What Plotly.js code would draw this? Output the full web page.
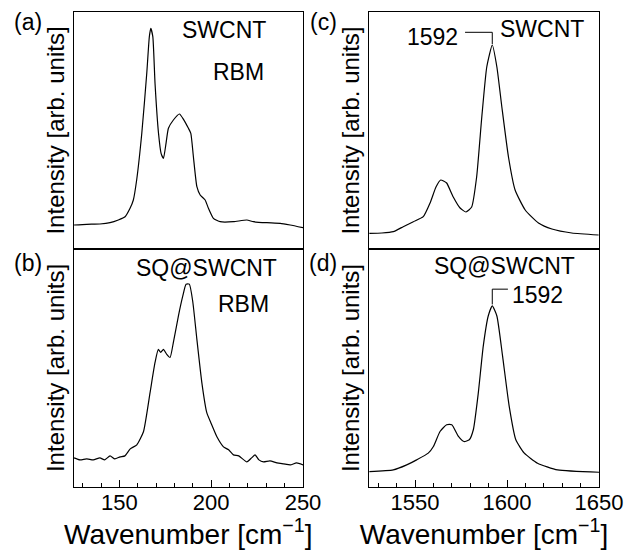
<!DOCTYPE html>
<html>
<head>
<meta charset="utf-8">
<script src="https://cdn.plot.ly/plotly-3.0.1.min.js"></script>
<style>html,body{margin:0;padding:0;background:#fff;}#chart{width:629px;height:550px;}</style>
</head>
<body>
<div id="chart"></div>
<script>
// ---- Data (intensity in arbitrary units) ----
// (a) SWCNT, RBM region
const wnA = [125.3,132.2,139.4,144.9,149.4,153.1,155.8,157.6,159.4,162.2,164.9,166.3,167.1,168.2,169.4,171.3,172.7,174.0,175.4,176.7,179.4,182.7,184.9,187.6,188.9,190.3,192.2,194.0,196.7,198.5,201.2,204.9,212.1,219.4,223.0,230.3,237.6,243.0,250.0];
const intA = [24,24.7,25,26.3,29,32.3,40.7,49,69,115.7,175.7,212.3,220.7,212.3,165.7,115.7,95.7,90.7,105.7,120.7,129,135,129.7,120.7,115.7,92.3,62.3,54,49,40.7,30.7,27.3,27.3,29,27.3,26.3,25.7,24,21.3];
// (b) SQ@SWCNT, RBM region
const wnB = [125.3,128.5,132.2,135.8,139.4,142.0,144.9,147.5,150.4,153.0,155.9,159.5,163.1,166.7,169.4,171.2,172.5,174.0,175.8,177.6,179.4,182.1,184.5,186.3,188.1,190.0,192.2,194.9,197.6,199.8,203.1,206.7,209.5,212.1,215.0,219.4,222.0,223.9,226.0,228.5,232.0,235.8,239.5,243.1,246.5,250.0];
const intB = [29,27,28,27,29,27,31,28,30,31,38,42,55,94,124,137,134,137,132,129,144,170,190,202,202,184,147,104,74,64,50,40,37,32,31,25,29,32,27,25,26,24,23,22,24,22];
// (c) SWCNT, G band
const wnC = [1525.2,1532.0,1538.2,1543.6,1549.1,1554.5,1558.2,1561.4,1564.0,1565.5,1567.2,1570.8,1574.5,1577.7,1580.8,1583.5,1586.3,1589.0,1592.0,1594.5,1597.2,1600.8,1604.4,1609.9,1617.1,1624.4,1635.2,1649.8];
const intC = [15.7,16,17.3,22.3,27.3,32.3,46,62,69,68,66,52,41,37,42,72,132,182,204,182,142,92,59,39,26,20,16,14];
// (d) SQ@SWCNT, G band
const wnD = [1525.2,1538.2,1545.5,1550.9,1557.2,1560.0,1563.6,1567.2,1570.0,1573.6,1576.6,1579.5,1581.7,1584.4,1587.1,1589.8,1592.0,1594.5,1597.6,1601.2,1604.8,1609.4,1616.6,1627.5,1650.0];
const intD = [15.3,17,22,27,33.7,40.3,55.3,62,62,50.3,45.3,47,57,93.7,140.3,170.3,180.3,170.3,130.3,80.3,47,33.7,23.7,17,14.7];

const panelLabels = ['(a)','(b)','(c)','(d)'];
const peakLabel = 1592;
const xTickLeft = ['150','200','250'];
const xTickRight = ['1550','1600','1650'];

// ---- Layout helpers ----
const W = 629, H = 550;
const px = v => v / W;
const py = v => 1 - v / H;
const FONT = 'Liberation Sans, Arial, Helvetica, sans-serif';

const line = {color:'#000', width:1.2, shape:'spline', smoothing:0.5};
const traces = [
  {x:wnA, y:intA, xaxis:'x', yaxis:'y', type:'scatter', mode:'lines', line:line, showlegend:false, hoverinfo:'skip'},
  {x:wnB, y:intB, xaxis:'x2', yaxis:'y2', type:'scatter', mode:'lines', line:line, showlegend:false, hoverinfo:'skip'},
  {x:wnC, y:intC, xaxis:'x3', yaxis:'y3', type:'scatter', mode:'lines', line:line, showlegend:false, hoverinfo:'skip'},
  {x:wnD, y:intD, xaxis:'x4', yaxis:'y4', type:'scatter', mode:'lines', line:line, showlegend:false, hoverinfo:'skip'}
];

const leftDom = [px(73.5), px(303)];
const rightDom = [px(369), px(599)];
const topDom = [py(249), py(12)];
const botDom = [py(487), py(249)];

function xTop(dom, range, anchor){
  return {domain:dom, range:range, anchor:anchor, showline:true, mirror:true, linecolor:'#000', linewidth:1,
    ticks:'', showticklabels:false, showgrid:false, zeroline:false};
}
function xBot(dom, range, anchor, tvals, ttext, minor0){
  return {domain:dom, range:range, anchor:anchor, showline:true, mirror:true, linecolor:'#000', linewidth:1,
    showgrid:false, zeroline:false, ticks:'inside', ticklen:7, tickwidth:1, tickcolor:'#000',
    tickmode:'array', tickvals:tvals.map(Number), ticktext:ttext, ticklabelstandoff:-4,
    minor:{ticks:'inside', ticklen:4, tickwidth:1, tickcolor:'#000', dtick:10, tick0:minor0, showgrid:false},
    tickfont:{family:FONT, size:22, color:'#000'},
    title:{text:'Wavenumber [cm<sup>\u22121</sup>]', font:{family:FONT, size:28, color:'#000'}, standoff:1}};
}
function yAx(dom, anchor){
  return {domain:dom, range:[0,237], anchor:anchor, showline:true, mirror:true, linecolor:'#000', linewidth:1,
    ticks:'', showticklabels:false, showgrid:false, zeroline:false,
    title:{text:'Intensity [arb. units]', font:{family:FONT, size:24, color:'#000'}, standoff:1}};
}

const ann = (text, x, y, size) => ({text:text, xref:'paper', yref:'paper', x:px(x), y:py(y),
  xanchor:'center', yanchor:'middle', showarrow:false, font:{family:FONT, size:size||23, color:'#000'}});

const annotations = [
  ann(panelLabels[0], 28, 22), ann(panelLabels[1], 28, 263),
  ann(panelLabels[2], 323, 22), ann(panelLabels[3], 323, 263),
  ann('SWCNT', 224, 30), ann('RBM', 238, 72),
  ann('SQ@SWCNT', 207, 268), ann('RBM', 243, 304),
  ann(String(peakLabel), 432, 37), ann('SWCNT', 542, 29),
  ann('SQ@SWCNT', 504, 266), ann(String(peakLabel), 537, 295)
];

const peakC = intC[wnC.indexOf(peakLabel)];
const peakD = intD[wnD.indexOf(peakLabel)];
const sl = {color:'#000', width:1};
const shapes = [
  {type:'line', xref:'x3', yref:'y3', x0:1577.2, x1:peakLabel, y0:216.7, y1:216.7, line:sl},
  {type:'line', xref:'x3', yref:'y3', x0:peakLabel, x1:peakLabel, y0:216.7, y1:peakC + 1, line:sl},
  {type:'line', xref:'x4', yref:'y4', x0:peakLabel, x1:1600.5, y0:197, y1:197, line:sl},
  {type:'line', xref:'x4', yref:'y4', x0:peakLabel, x1:peakLabel, y0:197, y1:peakD + 1.5, line:sl}
];

const layout = {
  width:W, height:H, margin:{l:0, r:0, t:0, b:0}, paper_bgcolor:'#fff', plot_bgcolor:'#fff',
  showlegend:false, font:{family:FONT, color:'#000'},
  xaxis: xTop(leftDom, [125,250], 'y'),
  yaxis: yAx(topDom, 'x'),
  xaxis2: xBot(leftDom, [125,250], 'y2', xTickLeft, xTickLeft, 130),
  yaxis2: yAx(botDom, 'x2'),
  xaxis3: xTop(rightDom, [1525,1650], 'y3'),
  yaxis3: yAx(topDom, 'x3'),
  xaxis4: xBot(rightDom, [1525,1650], 'y4', xTickRight, xTickRight, 1530),
  yaxis4: yAx(botDom, 'x4'),
  annotations: annotations,
  shapes: shapes
};

Plotly.newPlot('chart', traces, layout, {staticPlot:true, displayModeBar:false});
</script>
</body>
</html>
